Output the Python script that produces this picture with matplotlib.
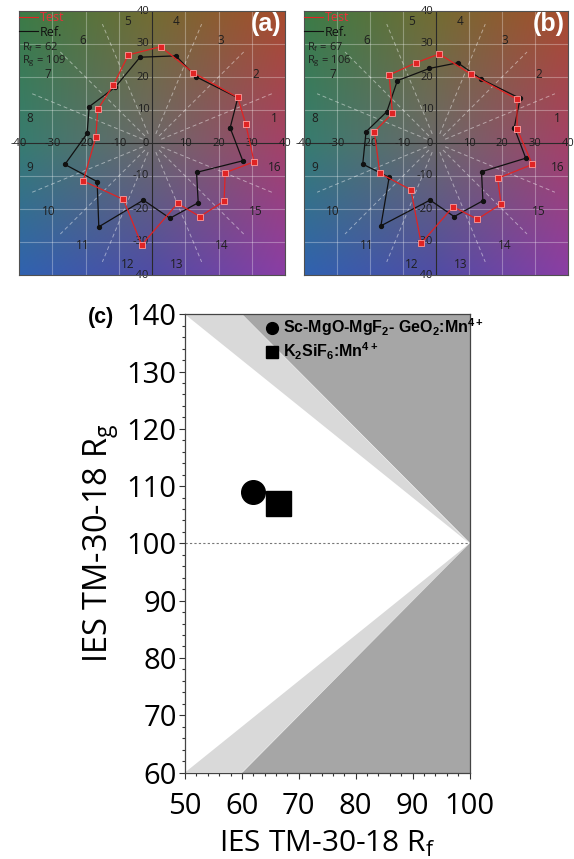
import numpy as np
import matplotlib
matplotlib.use('Agg')
import matplotlib.pyplot as plt
from matplotlib.lines import Line2D
from matplotlib.ticker import MultipleLocator

plt.rcParams['font.family'] = ['Open Sans', 'DejaVu Sans']
plt.rcParams['mathtext.fontset'] = 'custom'
plt.rcParams['mathtext.rm'] = 'Open Sans'

# colour vector graphics, hue bins 1..16
ref_a_x = [23.5, 25.8, 13.2, 7.2, -3.6, -11.1, -18.9, -19.5, -26.2, -16.5, -16.0, -2.6, 5.4, 13.9, 13.4, 27.3]
ref_a_y = [4.6, 13.7, 20.1, 26.4, 26.0, 16.9, 11.0, 2.9, -6.5, -11.7, -25.4, -17.3, -22.8, -18.1, -8.9, -5.4]
test_a_x = [28.2, 25.8, 12.4, 2.6, -7.1, -11.6, -16.3, -16.9, -20.7, -8.6, -3.1, 7.7, 14.4, 21.7, 22.0, 30.7]
test_a_y = [5.7, 13.8, 21.3, 29.2, 26.7, 17.6, 10.2, 1.7, -11.5, -17.1, -30.9, -18.3, -22.3, -17.6, -9.0, -5.7]

ref_b_x = [23.7, 25.5, 13.6, 6.6, -2.0, -11.7, -14.9, -21.2, -22.2, -14.2, -16.7, -1.8, 5.5, 14.2, 13.8, 27.2]
ref_b_y = [4.6, 13.5, 19.4, 24.3, 22.6, 18.9, 9.5, 3.4, -6.4, -10.4, -25.1, -17.3, -22.3, -17.5, -8.7, -4.6]
test_b_x = [24.6, 24.5, 10.5, 1.0, -6.1, -14.2, -13.2, -18.7, -17.0, -7.6, -4.5, 5.2, 12.5, 19.7, 18.7, 29.2]
test_b_y = [4.2, 13.3, 20.9, 27.0, 24.3, 20.6, 9.0, 3.4, -9.2, -14.2, -30.4, -19.3, -23.1, -18.5, -10.7, -6.5]

rf_a, rg_a = 62, 109
rf_b, rg_b = 67, 106

hue_bins = list(range(1, 17))
cvg_ticks = [-40, -30, -20, -10, 10, 20, 30, 40]

# panel (c)
samples = ['Sc-MgO-MgF$_\\mathregular{2}$- GeO$_\\mathregular{2}$:Mn$^\\mathregular{4+}$',
           'K$_\\mathregular{2}$SiF$_\\mathregular{6}$:Mn$^\\mathregular{4+}$']
sample_rf = [62, 66.3]
sample_rg = [109, 107]
sample_marker = ['o', 's']

# boundaries of the shaded zones (Rf, Rg)
light_top = [(50, 140), (60, 140), (100, 100)]
light_bot = [(50, 60), (60, 60), (100, 100)]
dark_top = [(60, 140), (100, 140), (100, 100)]
dark_bot = [(60, 60), (100, 60), (100, 100)]

# background colours: rows y=-40,0,40 ; cols x=-40,0,40
bg = np.array([[(48, 98, 176), (80, 76, 165), (138, 62, 165)],
               [(55, 124, 112), (108, 104, 106), (163, 66, 104)],
               [(60, 123, 70), (115, 108, 50), (168, 76, 45)]]) / 255.0


def upsample(c, n=161):
    t = np.linspace(0, 2, n)
    i = np.minimum(t.astype(int), 1)
    f = (t - i)[:, None]
    rows = c[:, i, :] * (1 - f) + c[:, i + 1, :] * f
    fy = f[:, :, None]
    return rows[i] * (1 - fy) + rows[i + 1] * fy


bg_img = np.clip(upsample(bg), 0, 1)

W, H = 574, 859
fig = plt.figure(figsize=(W / 100, H / 100), dpi=100)


def px_axes(x0, y0, x1, y1):
    return fig.add_axes([x0 / W, 1 - y1 / H, (x1 - x0) / W, (y1 - y0) / H])


def cvg(ax, rx, ry, tx, ty, rf, rg, tag):
    ax.imshow(bg_img, extent=(-40, 40, -40, 40), origin='lower', aspect='auto', zorder=0)
    ax.set_xlim(-40, 40)
    ax.set_ylim(-40, 40)
    ax.set_xticks([])
    ax.set_yticks([])
    for s in ax.spines.values():
        s.set_color('#505050')
        s.set_linewidth(0.8)
    for v in [-30, -20, -10, 10, 20, 30]:
        ax.axvline(v, color='white', alpha=0.3, lw=0.8, zorder=1)
        ax.axhline(v, color='white', alpha=0.3, lw=0.8, zorder=1)
    for k in range(16):
        a = np.deg2rad(22.5 * k)
        ax.plot([3 * np.cos(a), 39 * np.cos(a)], [3 * np.sin(a), 39 * np.sin(a)],
                color='white', alpha=0.45, lw=0.7, ls=(0, (4, 3)), zorder=1)
    ax.axvline(0, color='#2a2a2a', lw=0.8, zorder=1.5)
    ax.axhline(0, color='#2a2a2a', lw=0.8, zorder=1.5)
    for h in hue_bins:
        a = np.deg2rad((h - 0.5) * 22.5)
        ax.text(37.5 * np.cos(a), 37.5 * np.sin(a), str(h), ha='center', va='center',
                fontsize=8.5, color='#1e1e1e', zorder=2)
    for v in cvg_ticks:
        ax.text(v, 0, str(v), ha='center', va='center', fontsize=8, color='#1e1e1e', zorder=2)
        ax.text(-0.8, v, str(v), ha='right', va='center', fontsize=8, color='#1e1e1e', zorder=2)
    ax.text(-0.8, 0, '0', ha='right', va='center', fontsize=8, color='#1e1e1e', zorder=2)

    ax.plot(rx + rx[:1], ry + ry[:1], color='#111111', lw=0.9, marker='o', ms=2.8, zorder=3)
    ax.plot(tx + tx[:1], ty + ty[:1], color='#e02424', lw=0.9, marker='s', ms=3.8,
            mfc='#e02424', mec='#ff9a9a', mew=0.6, zorder=4)

    handles = [Line2D([], [], color='#e02424', lw=0.8), Line2D([], [], color='#111111', lw=0.8)]
    ax.legend(handles, ['Test', 'Ref.'], loc='upper left', bbox_to_anchor=(0.0, 1.0),
              frameon=False, borderpad=0, borderaxespad=0, handlelength=1.5,
              handletextpad=0.15, labelspacing=0.15, fontsize=9,
              labelcolor=['#e8303a', '#111111'])
    ax.text(0.01, 0.862, 'R$_\\mathregular{f}$ = %d' % rf, transform=ax.transAxes,
            fontsize=8, va='center', color='#1e1e1e')
    ax.text(0.01, 0.810, 'R$_\\mathregular{g}$ = %d' % rg, transform=ax.transAxes,
            fontsize=8, va='center', color='#1e1e1e')
    ax.text(0.928, 0.952, tag, transform=ax.transAxes, ha='center', va='center',
            fontsize=18, fontweight='bold', color='white', family='Liberation Sans')


ax_a = px_axes(19, 11, 285, 275)
cvg(ax_a, ref_a_x, ref_a_y, test_a_x, test_a_y, rf_a, rg_a, '(a)')
ax_b = px_axes(304, 11, 568, 275)
cvg(ax_b, ref_b_x, ref_b_y, test_b_x, test_b_y, rf_b, rg_b, '(b)')

# panel (c): Rf-Rg plane
ax = px_axes(185, 314.3, 469.5, 772.5)
for poly, col in [(light_top, '#d9d9d9'), (light_bot, '#d9d9d9'),
                  (dark_top, '#a6a6a6'), (dark_bot, '#a6a6a6')]:
    xs, ys = zip(*poly)
    ax.fill(xs, ys, color=col, lw=0, zorder=1)
ax.plot([50, 100], [100, 100], color='#777777', lw=0.8, ls=(0, (2, 2)), zorder=2)
for x, y, m, lab in zip(sample_rf, sample_rg, sample_marker, samples):
    ax.plot(x, y, ls='none', marker=m, ms=17 if m == 'o' else 18, color='black', label=lab, zorder=3)
ax.set_xlim(50, 100)
ax.set_ylim(60, 140)
ax.xaxis.set_major_locator(MultipleLocator(10))
ax.yaxis.set_major_locator(MultipleLocator(10))
ax.xaxis.set_minor_locator(MultipleLocator(2))
ax.yaxis.set_minor_locator(MultipleLocator(2))
ax.tick_params(which='both', direction='out', color='#333333', width=0.8)
ax.tick_params(which='major', length=4, labelsize=21)
ax.tick_params(which='minor', length=2.5)
ax.tick_params(axis='x', which='major', pad=10)
ax.tick_params(axis='y', which='major', pad=2)
for s in ax.spines.values():
    s.set_color('#444444')
    s.set_linewidth(0.9)
ax.set_xlabel('IES TM-30-18 R$_\\mathregular{f}$', fontsize=21.5, labelpad=6)
ax.set_ylabel('IES TM-30-18 R$_\\mathregular{g}$', fontsize=23.5, labelpad=3)
ax.legend(loc='upper left', bbox_to_anchor=(0.277, 0.995), frameon=False, borderpad=0,
          borderaxespad=0, markerscale=0.5, handlelength=1.0, handletextpad=0.2,
          labelspacing=0.15, prop={'family': 'Liberation Sans', 'weight': 'bold', 'size': 11.5})
fig.text(88 / W, 1 - 318 / H, '(c)', fontsize=15.5, fontweight='bold', family='Liberation Sans',
         va='center', ha='left')

fig.savefig('out.png', dpi=100)
